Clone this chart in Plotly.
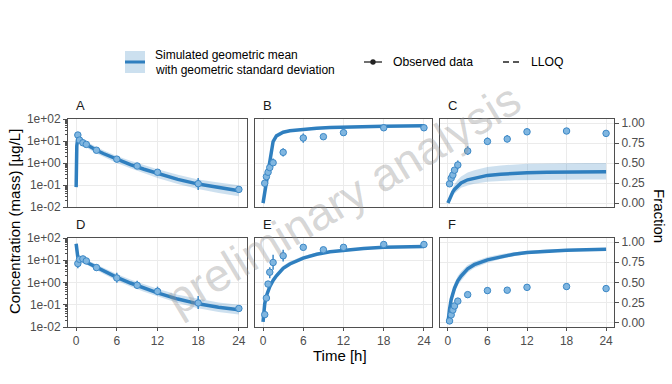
import math
import plotly.graph_objects as go

W, H = 672, 384

# ---------------- data ----------------
sim_time = [0, 0.1, 0.25, 0.5, 0.75, 1, 1.5, 2, 3, 4, 6, 8, 10, 12, 15, 18, 21, 24]

A_mean = [0.08, 6, 14.5, 11.5, 9.5, 8.5, 6.8, 5.6, 3.8, 2.7, 1.45, 0.85, 0.52, 0.33, 0.18, 0.11, 0.075, 0.055]
A_low = [0.07, 4.5, 11, 8.8, 7.2, 6.4, 5.0, 4.1, 2.7, 1.9, 1.0, 0.57, 0.34, 0.21, 0.11, 0.065, 0.043, 0.031]
A_high = [0.09, 8, 19, 15, 12.5, 11.3, 9.2, 7.6, 5.3, 3.8, 2.1, 1.27, 0.80, 0.52, 0.29, 0.18, 0.13, 0.097]

B_mean = [0.015, 0.03, 0.045, 0.13, 0.39, 1.1, 9.5, 17, 25, 29, 34, 38, 41, 43, 45, 47, 48, 49]
B_low = [0.013, 0.026, 0.04, 0.11, 0.33, 0.9, 7.5, 14.5, 22, 26.5, 31.5, 35.5, 38.5, 40.5, 42.5, 44.5, 45.5, 46.5]
B_high = [0.018, 0.036, 0.055, 0.16, 0.48, 1.4, 12, 20, 28, 32, 36.5, 40.5, 43.5, 45.5, 47.5, 49.5, 50.5, 51.5]

C_mean = [0.0, 0.02, 0.05, 0.09, 0.14, 0.17, 0.21, 0.25, 0.29, 0.31, 0.345, 0.36, 0.37, 0.378, 0.384, 0.388, 0.39, 0.39]
C_low = [0.0, 0.015, 0.04, 0.07, 0.1, 0.12, 0.16, 0.19, 0.22, 0.24, 0.265, 0.275, 0.283, 0.287, 0.29, 0.293, 0.295, 0.295]
C_high = [0.0, 0.03, 0.07, 0.13, 0.19, 0.23, 0.29, 0.33, 0.38, 0.41, 0.45, 0.47, 0.48, 0.49, 0.495, 0.5, 0.5, 0.5]

D_mean = [55, 20, 13.5, 11.5, 10.5, 9.8, 8.3, 7, 4.8, 3.4, 1.7, 0.95, 0.55, 0.34, 0.18, 0.11, 0.078, 0.06]
D_low = [45, 15, 10.5, 8.9, 8.1, 7.5, 6.3, 5.3, 3.6, 2.5, 1.2, 0.66, 0.38, 0.23, 0.12, 0.07, 0.047, 0.036]
D_high = [65, 26, 17.5, 14.8, 13.6, 12.8, 10.9, 9.2, 6.4, 4.6, 2.4, 1.37, 0.82, 0.52, 0.28, 0.18, 0.125, 0.1]

E_mean = [0.017, 0.05, 0.11, 0.25, 0.42, 0.65, 1.25, 2.0, 4.3, 6.8, 12.5, 18.5, 24, 28.5, 34, 38, 40.5, 42]
E_low = [0.015, 0.044, 0.097, 0.22, 0.37, 0.57, 1.1, 1.75, 3.8, 6.0, 11.2, 16.8, 22, 26.3, 31.5, 35.5, 38, 39.5]
E_high = [0.02, 0.07, 0.15, 0.34, 0.57, 0.88, 1.7, 2.7, 5.7, 8.8, 15.5, 21.5, 26.5, 31, 36, 40.5, 43, 44.5]

F_mean = [0.0, 0.08, 0.17, 0.29, 0.37, 0.43, 0.52, 0.58, 0.67, 0.72, 0.78, 0.82, 0.85, 0.87, 0.89, 0.9, 0.905, 0.91]
F_low = [0.0, 0.05, 0.13, 0.24, 0.32, 0.38, 0.47, 0.53, 0.625, 0.68, 0.745, 0.79, 0.825, 0.85, 0.87, 0.885, 0.89, 0.895]
F_high = [0.0, 0.12, 0.22, 0.35, 0.43, 0.49, 0.58, 0.635, 0.715, 0.76, 0.815, 0.85, 0.875, 0.89, 0.91, 0.915, 0.92, 0.925]

obs_time_AD = [0.25, 0.5, 1, 1.5, 3, 6, 9, 12, 18, 24]
obs_time = [0.25, 0.5, 0.75, 1, 1.5, 3, 6, 9, 12, 18, 24]

A_obs = [18.7, 11, 8.3, 7, 3.8, 1.5, 0.73, 0.38, 0.115, 0.063]
A_obs_lo = [16.5, 9.8, 7.4, 6.2, 3.3, 1.3, 0.63, 0.32, 0.06, 0.058]
A_obs_hi = [21, 12.5, 9.3, 7.9, 4.3, 1.75, 0.85, 0.45, 0.21, 0.068]

B_obs = [0.12, 0.24, 0.38, 0.62, 1.03, 3.05, 13.7, 15.7, 24, 40, 40]
B_obs_lo = [0.11, 0.22, 0.35, 0.57, 0.72, 1.95, 8.3, 14, 17, 37, 37]
B_obs_hi = [0.13, 0.26, 0.42, 0.68, 1.6, 4.7, 22, 17.5, 34, 43.5, 43.5]

C_obs = [0.24, 0.31, 0.35, 0.41, 0.475, 0.65, 0.77, 0.80, 0.89, 0.90, 0.87]
C_obs_lo = [0.22, 0.29, 0.33, 0.38, 0.42, 0.6, 0.73, 0.76, 0.86, 0.87, 0.85]
C_obs_hi = [0.26, 0.33, 0.37, 0.44, 0.53, 0.71, 0.82, 0.85, 0.93, 0.93, 0.89]

D_obs = [7.1, 11, 11.5, 9.3, 4.7, 1.6, 0.75, 0.4, 0.12, 0.068]
D_obs_lo = [4.4, 9.5, 10, 8.2, 3.4, 0.98, 0.51, 0.27, 0.065, 0.063]
D_obs_hi = [11.2, 12.8, 13.2, 10.6, 6.6, 2.75, 1.2, 0.65, 0.245, 0.074]

E_obs = [0.036, 0.2, 0.85, 2.9, 7.9, 15.9, 38, 29.5, 38, 51, 51]
E_obs_lo = [0.032, 0.18, 0.75, 1.55, 3.7, 8.7, 35, 27, 34, 47, 48]
E_obs_hi = [0.04, 0.23, 0.98, 4.9, 17.5, 29.5, 42, 32.5, 43, 55, 55]

F_obs = [0.025, 0.1, 0.16, 0.21, 0.27, 0.35, 0.40, 0.405, 0.44, 0.45, 0.425]
F_obs_lo = [0.015, 0.085, 0.145, 0.19, 0.25, 0.33, 0.36, 0.385, 0.42, 0.41, 0.39]
F_obs_hi = [0.035, 0.115, 0.175, 0.23, 0.29, 0.37, 0.44, 0.425, 0.46, 0.49, 0.46]

LLOQ = 0.1

x_ticks = [0, 6, 12, 18, 24]
log_ticks = [0.01, 0.1, 1, 10, 100]
log_tick_text = ["1e-02", "1e-01", "1e+00", "1e+01", "1e+02"]
frac_ticks = [0, 0.25, 0.5, 0.75, 1.0]
frac_tick_text = ["0.00", "0.25", "0.50", "0.75", "1.00"]

# ---------------- style ----------------
LINE = "#2f7fbf"
BAND = "rgba(60,135,195,0.26)"
PT_FILL = "#80b6e0"
PT_EDGE = "#3c88c6"
GRID = "#ebebeb"
BORDER = "#4f4f4f"
TICKC = "#4d4d4d"
FONT = "Arial, 'Liberation Sans', sans-serif"
TICK_SIZE = 12


def px(x):
    return x / W


def py(y):
    return 1 - y / H


panels = [
    dict(lab="A", n=1, x0=68, x1=247, y0=119, y1=207, kind="log", lloq=True,
         mean=A_mean, low=A_low, high=A_high, ot=obs_time_AD, o=A_obs, lo=A_obs_lo, hi=A_obs_hi),
    dict(lab="B", n=2, x0=255, x1=432, y0=119, y1=207, kind="logb", lloq=False,
         mean=B_mean, low=B_low, high=B_high, ot=obs_time, o=B_obs, lo=B_obs_lo, hi=B_obs_hi),
    dict(lab="C", n=3, x0=440, x1=614, y0=119, y1=207, kind="frac", lloq=False,
         mean=C_mean, low=C_low, high=C_high, ot=obs_time, o=C_obs, lo=C_obs_lo, hi=C_obs_hi),
    dict(lab="D", n=4, x0=68, x1=247, y0=238, y1=327, kind="log", lloq=True,
         mean=D_mean, low=D_low, high=D_high, ot=obs_time_AD, o=D_obs, lo=D_obs_lo, hi=D_obs_hi),
    dict(lab="E", n=5, x0=255, x1=432, y0=238, y1=327, kind="logb", lloq=False,
         mean=E_mean, low=E_low, high=E_high, ot=obs_time, o=E_obs, lo=E_obs_lo, hi=E_obs_hi),
    dict(lab="F", n=6, x0=440, x1=614, y0=238, y1=327, kind="frac", lloq=False,
         mean=F_mean, low=F_low, high=F_high, ot=obs_time, o=F_obs, lo=F_obs_lo, hi=F_obs_hi),
]

fig = go.Figure()
layout = dict(
    width=W, height=H, margin=dict(l=0, r=0, t=0, b=0, autoexpand=False),
    paper_bgcolor="white", plot_bgcolor="white", showlegend=False,
    font=dict(family=FONT, size=12, color="#000"),
)
annotations = []
shapes = []


def ann(text, x, y, xanchor="center", yanchor="middle", size=12.3, angle=0, color="#000"):
    annotations.append(dict(text=text, x=px(x), y=py(y), xref="paper", yref="paper",
                            xanchor=xanchor, yanchor=yanchor, textangle=angle, borderpad=0,
                            showarrow=False, font=dict(size=size, color=color, family=FONT)))


for p in panels:
    n = p["n"]
    xs = "x" if n == 1 else f"x{n}"
    ys = "y" if n == 1 else f"y{n}"
    xa = "xaxis" if n == 1 else f"xaxis{n}"
    ya = "yaxis" if n == 1 else f"yaxis{n}"
    bottom = n >= 4

    layout[xa] = dict(
        domain=[px(p["x0"]), px(p["x1"])], anchor=ys, range=[-1.2, 25.2],
        tickvals=x_ticks, ticktext=[str(v) for v in x_ticks],
        showticklabels=bottom, ticks="outside" if bottom else "", ticklen=3,
        tickcolor=BORDER, tickfont=dict(size=TICK_SIZE, color=TICKC, family=FONT),
        showgrid=True, gridcolor=GRID, gridwidth=1, zeroline=False,
        showline=True, mirror=True, linecolor=BORDER, linewidth=1,
    )
    if p["kind"] in ("log", "logb"):
        show = p["kind"] == "log"
        yd = dict(
            domain=[py(p["y1"]), py(p["y0"])], anchor=xs, type="log", range=[-2, 2],
            tickmode="array", tickvals=log_ticks, ticktext=log_tick_text,
            showticklabels=show, ticks="outside" if show else "", ticklen=4,
            tickcolor=BORDER, tickfont=dict(size=TICK_SIZE, color=TICKC, family=FONT),
            showgrid=True, gridcolor=GRID, gridwidth=1, zeroline=False,
            showline=True, mirror=True, linecolor=BORDER, linewidth=1,
        )
        if show:
            minor_vals = [m * 10 ** k for k in range(-2, 2) for m in range(2, 10)]
            yd["minor"] = dict(tickmode="array", tickvals=minor_vals, ticks="outside",
                               ticklen=2, tickcolor=BORDER, showgrid=False)
        layout[ya] = yd
    else:
        layout[ya] = dict(
            domain=[py(p["y1"]), py(p["y0"])], anchor=xs, side="right", range=[-0.05, 1.05],
            tickmode="array", tickvals=frac_ticks, ticktext=frac_tick_text,
            ticks="outside", ticklen=4, tickcolor=BORDER,
            tickfont=dict(size=TICK_SIZE, color=TICKC, family=FONT),
            showgrid=True, gridcolor=GRID, gridwidth=1, zeroline=False,
            showline=True, mirror=True, linecolor=BORDER, linewidth=1,
        )

    # band
    fig.add_trace(go.Scatter(
        x=sim_time + sim_time[::-1], y=p["high"] + p["low"][::-1],
        fill="toself", fillcolor=BAND, line=dict(width=0), mode="lines",
        hoverinfo="skip", xaxis=xs, yaxis=ys))
    # mean
    fig.add_trace(go.Scatter(
        x=sim_time, y=p["mean"], mode="lines",
        line=dict(color=LINE, width=3.5), xaxis=xs, yaxis=ys))
    # LLOQ
    if p["lloq"]:
        shapes.append(dict(type="line", xref=f"{xs} domain", yref=ys, x0=0, x1=1,
                           y0=math.log10(LLOQ), y1=math.log10(LLOQ),
                           line=dict(color="#3f8cc9", width=1.5, dash="6px,4px"), layer="above"))
    # observed
    plus = [h - v for h, v in zip(p["hi"], p["o"])]
    minus = [v - l for l, v in zip(p["lo"], p["o"])]
    fig.add_trace(go.Scatter(
        x=p["ot"], y=p["o"], mode="markers",
        marker=dict(size=6.5, color=PT_FILL, line=dict(color=PT_EDGE, width=1)),
        error_y=dict(type="data", array=plus, arrayminus=minus, symmetric=False,
                     color=PT_EDGE, thickness=1.5, width=0),
        xaxis=xs, yaxis=ys))

    ann(p["lab"], p["x0"] + 7, p["y0"] - 14, xanchor="left", size=13, color="#1a1a1a")

# axis titles
ann("Concentration (mass) [µg/L]", 14, 222, size=15, angle=-90)
ann("Fraction", 660, 216, size=15, angle=90)
ann("Time [h]", 340, 355, size=15)

# legend (manual)
shapes += [
    dict(type="rect", xref="paper", yref="paper", x0=px(125), x1=px(145), y0=py(73), y1=py(51),
         fillcolor="#cce0ef", line=dict(width=0)),
    dict(type="line", xref="paper", yref="paper", x0=px(125), x1=px(145), y0=py(62), y1=py(62),
         line=dict(color=LINE, width=3)),
    dict(type="line", xref="paper", yref="paper", x0=px(364), x1=px(382), y0=py(62), y1=py(62),
         line=dict(color="#222", width=1.3)),
    dict(type="circle", xref="paper", yref="paper", x0=px(370.3), x1=px(375.7), y0=py(64.7), y1=py(59.3),
         fillcolor="#222", line=dict(color="#222", width=0)),
    dict(type="line", xref="paper", yref="paper", x0=px(503), x1=px(520), y0=py(62), y1=py(62),
         line=dict(color="#222", width=1.3, dash="6px,4px")),
]
ann("Simulated geometric mean", 154, 54.5, xanchor="left", size=12)
ann("with geometric standard deviation", 154, 69.5, xanchor="left", size=12)
ann("Observed data", 392, 62, xanchor="left", size=12.2)
ann("LLOQ", 530, 62, xanchor="left", size=12.2)

# watermark
ann("preliminary analysis", 343, 199, size=46, angle=-31, color="rgba(150,150,150,0.4)")

layout["annotations"] = annotations
layout["shapes"] = shapes
fig.update_layout(**layout)
fig.write_html("out.html", config={"displayModeBar": False},
               post_script="document.body.style.margin='0';document.body.style.padding='0';")
